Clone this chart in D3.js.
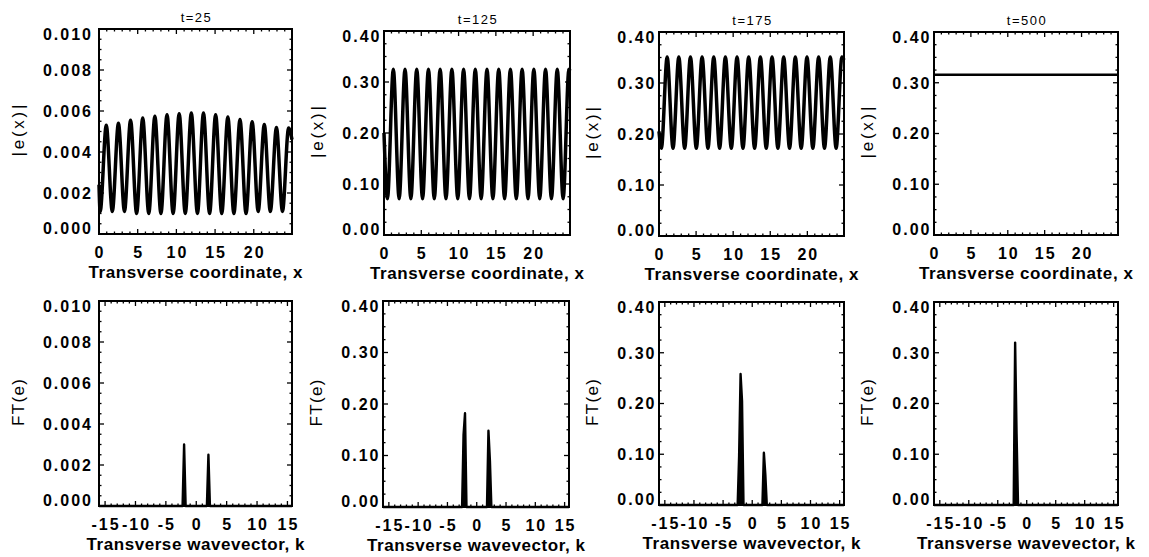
<!DOCTYPE html>
<html><head><meta charset="utf-8">
<script src="https://cdn.jsdelivr.net/npm/d3@7"></script>
<style>body{margin:0;background:#fff}svg{display:block}</style>
</head><body><svg id="c" width="1149" height="557"></svg>
<script>
// ---------- data ----------
const titles = ["t=25", "t=125", "t=175", "t=500"];
const xTickValues = [0, 5, 10, 15, 20];
const xTickLabels = ["0", "5", "10", "15", "20"];
const kTickValues = [-15, -10, -5, 0, 5, 10, 15];
const kTickLabels = ["-15", "-10", "-5", "0", "5", "10", "15"];
const yTicksSmall = [0, 0.002, 0.004, 0.006, 0.008, 0.010];
const yLabelsSmall = ["0.000", "0.002", "0.004", "0.006", "0.008", "0.010"];
const yTicksLarge = [0, 0.10, 0.20, 0.30, 0.40];
const yLabelsLarge = ["0.00", "0.10", "0.20", "0.30", "0.40"];

const ex25 = [0, 0.15, 0.94, 1.72, 2.51, 3.29, 4.08, 4.86, 5.65, 6.43, 7.22, 8.00, 8.79, 9.58, 10.36, 11.15, 11.93, 12.72, 13.50, 14.29, 15.07, 15.86, 16.65, 17.43, 18.22, 19.00, 19.79, 20.57, 21.36, 22.14, 22.93, 23.71, 24.50, 24.94];
const ey25 = [0.0024, 0.0011, 0.0053, 0.0011, 0.0054, 0.0011, 0.00555, 0.0010, 0.00566, 0.0010, 0.00574, 0.0010, 0.00582, 0.0010, 0.00587, 0.0010, 0.0059, 0.0010, 0.0059, 0.0010, 0.00582, 0.0010, 0.00571, 0.0010, 0.00558, 0.0010, 0.00547, 0.0011, 0.00534, 0.0011, 0.0052, 0.0011, 0.00517, 0.0046];
const ex125 = [0, 0.46, 1.25, 2.03, 2.82, 3.60, 4.39, 5.17, 5.96, 6.74, 7.53, 8.31, 9.10, 9.89, 10.67, 11.46, 12.24, 13.03, 13.81, 14.60, 15.38, 16.17, 16.95, 17.74, 18.52, 19.31, 20.09, 20.88, 21.66, 22.45, 23.23, 24.02, 24.80, 24.94];
const ey125 = [0.20, 0.071, 0.325, 0.071, 0.325, 0.071, 0.325, 0.071, 0.325, 0.071, 0.325, 0.071, 0.325, 0.071, 0.325, 0.071, 0.325, 0.071, 0.325, 0.071, 0.325, 0.071, 0.325, 0.071, 0.325, 0.071, 0.325, 0.071, 0.325, 0.071, 0.325, 0.071, 0.325, 0.322];
const ex175 = [0, 0.32, 1.10, 1.89, 2.67, 3.46, 4.24, 5.03, 5.81, 6.60, 7.38, 8.17, 8.95, 9.75, 10.52, 11.32, 12.09, 12.89, 13.67, 14.46, 15.24, 16.03, 16.81, 17.60, 18.38, 19.17, 19.95, 20.74, 21.52, 22.31, 23.09, 23.88, 24.66, 24.94];
const ey175 = [0.205, 0.172, 0.351, 0.172, 0.351, 0.172, 0.351, 0.172, 0.351, 0.172, 0.351, 0.172, 0.351, 0.172, 0.351, 0.172, 0.351, 0.172, 0.351, 0.172, 0.351, 0.172, 0.351, 0.172, 0.351, 0.172, 0.351, 0.172, 0.351, 0.172, 0.351, 0.172, 0.351, 0.345];
const ex500 = [0, 24.94];
const ey500 = [0.316, 0.316];

// FT(e) spectra : wavevector k and amplitude
const fk25 = [-16, -2.25, -2.0, -1.75, 1.75, 2.0, 2.25, 15.75];
const fv25 = [0, 0, 0.0030, 0, 0, 0.0025, 0, 0];
const fk125 = [-16, -2.5, -2.25, -2.0, -1.75, 1.75, 2.0, 2.25, 2.5, 15.75];
const fv125 = [0, 0, 0.14, 0.182, 0, 0, 0.148, 0.09, 0, 0];
const fk175 = [-16, -2.5, -2.25, -2.0, -1.75, -1.5, 1.75, 2.0, 2.25, 2.5, 15.75];
const fv175 = [0, 0, 0.097, 0.258, 0.205, 0, 0, 0.103, 0.06, 0, 0];
const fk500 = [-16, -2.25, -2.0, -1.75, -1.5, 15.75];
const fv500 = [0, 0, 0.32, 0.14, 0, 0];

// ---------- layout ----------
const topFrames = [
  {x0: 99, x1: 292, y0: 29, y1: 234},
  {x0: 384, x1: 570, y0: 31, y1: 235},
  {x0: 659, x1: 844, y0: 32, y1: 236},
  {x0: 934, x1: 1118, y0: 32, y1: 235}
];
const botFrames = [
  {x0: 99, x1: 292, y0: 301, y1: 506},
  {x0: 383, x1: 569, y0: 301, y1: 507},
  {x0: 659, x1: 844, y0: 302, y1: 505},
  {x0: 934, x1: 1118, y0: 302, y1: 505}
];

const svg = d3.select("#c");
svg.append("rect").attr("width", 1149).attr("height", 557).attr("fill", "#fff");
const FONT = "'Liberation Sans', Arial, Helvetica, sans-serif";

function panel(f, o) {
  const g = svg.append("g");
  const x = d3.scaleLinear().domain(o.xDomain).range([f.x0, f.x1]);
  const y = d3.scaleLinear().domain(o.yDomain).range([f.y1, f.y0]);
  const [xa, xb] = o.xDomain;
  const [ya, yb] = o.yDomain;
  const xMinor = d3.range(Math.ceil(xa), Math.floor(xb) + 0.001, 1).filter(v => !o.xTicks.includes(v));
  const yStep = (o.yTicks[1] - o.yTicks[0]) / 4;
  const yMinor = d3.range(ya, yb + yStep / 2, yStep).filter(v => !o.yTicks.some(t => Math.abs(t - v) < yStep / 10));

  const tickLayer = g.append("g").attr("stroke", "#000").attr("stroke-width", 1.3);
  const ML = 5, mL = 2.5;
  [[o.xTicks, ML], [xMinor, mL]].forEach(([vals, len]) => {
    tickLayer.selectAll(null).data(vals).join("line")
      .attr("x1", d => x(d)).attr("x2", d => x(d)).attr("y1", f.y1).attr("y2", f.y1 - len);
    tickLayer.selectAll(null).data(vals).join("line")
      .attr("x1", d => x(d)).attr("x2", d => x(d)).attr("y1", f.y0).attr("y2", f.y0 + len);
  });
  [[o.yTicks, ML], [yMinor, mL]].forEach(([vals, len]) => {
    tickLayer.selectAll(null).data(vals).join("line")
      .attr("y1", d => y(d)).attr("y2", d => y(d)).attr("x1", f.x0).attr("x2", f.x0 + len);
    tickLayer.selectAll(null).data(vals).join("line")
      .attr("y1", d => y(d)).attr("y2", d => y(d)).attr("x1", f.x1).attr("x2", f.x1 - len);
  });

  const line = d3.line().x(d => x(d[0])).y(d => y(d[1])).curve(o.curve);
  g.append("path").datum(o.xs.map((v, i) => [v, o.ys[i]]))
    .attr("d", line).attr("fill", o.fill).attr("stroke", "#000")
    .attr("stroke-width", o.lw).attr("stroke-linejoin", "round");

  g.append("rect").attr("x", f.x0).attr("y", f.y0).attr("width", f.x1 - f.x0).attr("height", f.y1 - f.y0)
    .attr("fill", "none").attr("stroke", "#000").attr("stroke-width", 2);

  const ls = 2;
  g.append("g").selectAll("text").data(o.yTicks).join("text")
    .attr("x", f.x0 - o.yGap + ls)
    .attr("y", d => Math.min(f.y1 - 5.5, Math.max(f.y0 + 5.5, y(d))))
    .attr("dy", "0.36em").attr("text-anchor", "end")
    .attr("font-family", FONT).attr("font-weight", "bold").attr("font-size", 16)
    .attr("letter-spacing", ls)
    .text((d, i) => o.yLabels[i]);
  g.append("g").selectAll("text").data(o.xTicks).join("text")
    .attr("x", d => x(d) + ls / 2).attr("y", f.y1 + 24)
    .attr("text-anchor", "middle")
    .attr("font-family", FONT).attr("font-weight", "bold").attr("font-size", 16)
    .attr("letter-spacing", ls)
    .text((d, i) => o.xLabels[i]);
  g.append("text").attr("x", (f.x0 + f.x1) / 2 + o.xtOff).attr("y", f.y1 + 44)
    .attr("text-anchor", "middle").attr("font-family", FONT).attr("font-weight", "bold")
    .attr("font-size", 17).attr("textLength", o.xtLen).attr("lengthAdjust", "spacing")
    .text(o.xTitle);
  g.append("text")
    .attr("transform", `translate(${f.x0 - o.ytOff},${(f.y0 + f.y1) / 2 - 1}) rotate(-90)`)
    .attr("dy", "0.36em").attr("text-anchor", "middle").attr("font-family", FONT)
    .attr("font-size", 17).attr("textLength", o.ytLen).attr("lengthAdjust", "spacing")
    .text(o.yTitle);
  if (o.title) {
    g.append("text").attr("x", (f.x0 + f.x1) / 2 + 1).attr("y", f.y0 - 7)
      .attr("text-anchor", "middle").attr("font-family", FONT).attr("font-size", 13)
      .attr("letter-spacing", 1.5).text(o.title);
  }
}

const topData = [[ex25, ey25], [ex125, ey125], [ex175, ey175], [ex500, ey500]];
const botData = [[fk25, fv25], [fk125, fv125], [fk175, fv175], [fk500, fv500]];

topFrames.forEach((f, i) => {
  const small = i === 0;
  panel(f, {
    xDomain: [0, 24.94], yDomain: small ? [0, 0.010] : [0, 0.40],
    xTicks: xTickValues, xLabels: xTickLabels,
    yTicks: small ? yTicksSmall : yTicksLarge, yLabels: small ? yLabelsSmall : yLabelsLarge,
    yGap: small ? 8 : 4.5,
    xs: topData[i][0], ys: topData[i][1], curve: d3.curveMonotoneX, lw: i === 3 ? 2.5 : 3.5,
    fill: "none",
    xTitle: "Transverse coordinate, x", xtLen: 214, xtOff: 0,
    yTitle: "|e(x)|", ytLen: 52, ytOff: small ? 81 : 67,
    title: titles[i]
  });
});
botFrames.forEach((f, i) => {
  const small = i === 0;
  panel(f, {
    xDomain: [-16, 15.75], yDomain: small ? [0, 0.010] : [0, 0.40],
    xTicks: kTickValues, xLabels: kTickLabels,
    yTicks: small ? yTicksSmall : yTicksLarge, yLabels: small ? yLabelsSmall : yLabelsLarge,
    yGap: small ? 8 : 4.5,
    xs: botData[i][0], ys: botData[i][1], curve: d3.curveLinear, lw: 2.4,
    fill: "#000",
    xTitle: "Transverse wavevector, k", xtLen: 218, xtOff: 0,
    yTitle: "FT(e)", ytLen: 47, ytOff: small ? 81 : 67,
    title: null
  });
});
</script></body></html>
